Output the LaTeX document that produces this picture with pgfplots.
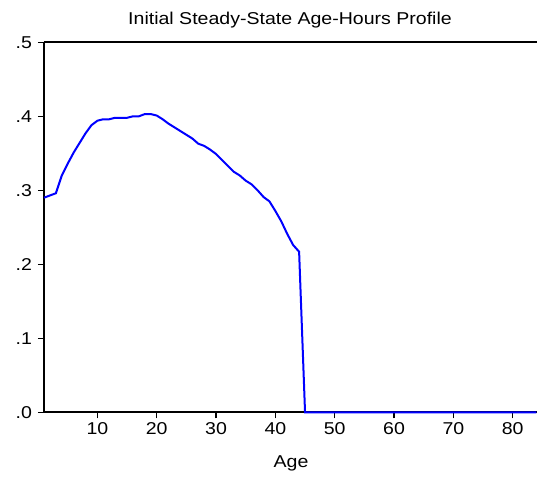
\documentclass[border=0pt]{standalone}
\usepackage{fontspec}
\setmainfont{Liberation Sans}[FakeStretch=1.14]
\usepackage{pgfplots}
\pgfplotsset{compat=1.18}

\begin{document}
\begin{tikzpicture}[x=1bp,y=1bp]
% page = 537 x 481 px, axis frame from x=44 and y=42..412
\path[use as bounding box] (-44,-68.7) rectangle (493,412.3);
\begin{axis}[
    at={(0,0)}, anchor=south west,
    scale only axis,
    width=493bp, height=370bp,
    xmin=1, xmax=84.1,
    ymin=0, ymax=0.5,
    axis x line=box, axis y line=left,
    axis line style={-, line width=2bp, black},
    xtick={10,20,...,80},
    ytick={0,0.1,0.2,0.3,0.4,0.5},
    yticklabels={.0,.1,.2,.3,.4,.5},
    xtick pos=bottom, ytick pos=left,
    tick align=outside,
    major tick length=6bp,
    tick style={line width=1.5bp, black},
    /pgf/number format/assume math mode=true,
    ticklabel style={font=\fontsize{17.2}{19}\selectfont},
    yticklabel style={xshift=-2.5bp},
    xticklabel style={yshift=-1bp},
    clip=false,
]
\addplot[color=blue, line width=2bp] table {
x y
1 0.290
2 0.293
3 0.296
4 0.320
5 0.336
6 0.351
7 0.364
8 0.377
9 0.388
10 0.394
11 0.396
12 0.396
13 0.398
14 0.398
15 0.398
16 0.400
17 0.400
18 0.403
19 0.403
20 0.401
21 0.396
22 0.390
23 0.385
24 0.380
25 0.375
26 0.370
27 0.363
28 0.360
29 0.355
30 0.349
31 0.341
32 0.333
33 0.325
34 0.320
35 0.313
36 0.308
37 0.300
38 0.291
39 0.285
40 0.272
41 0.258
42 0.241
43 0.226
44 0.217
45 0
50 0
60 0
70 0
80 0
84 0
};
\end{axis}
\node[anchor=base, font=\fontsize{17.2}{19}\selectfont] at (246,387.5) {Initial Steady-State Age-Hours Profile};
\node[anchor=base, font=\fontsize{17.2}{19}\selectfont] at (247,-55.7) {Age};
\end{tikzpicture}
\end{document}
